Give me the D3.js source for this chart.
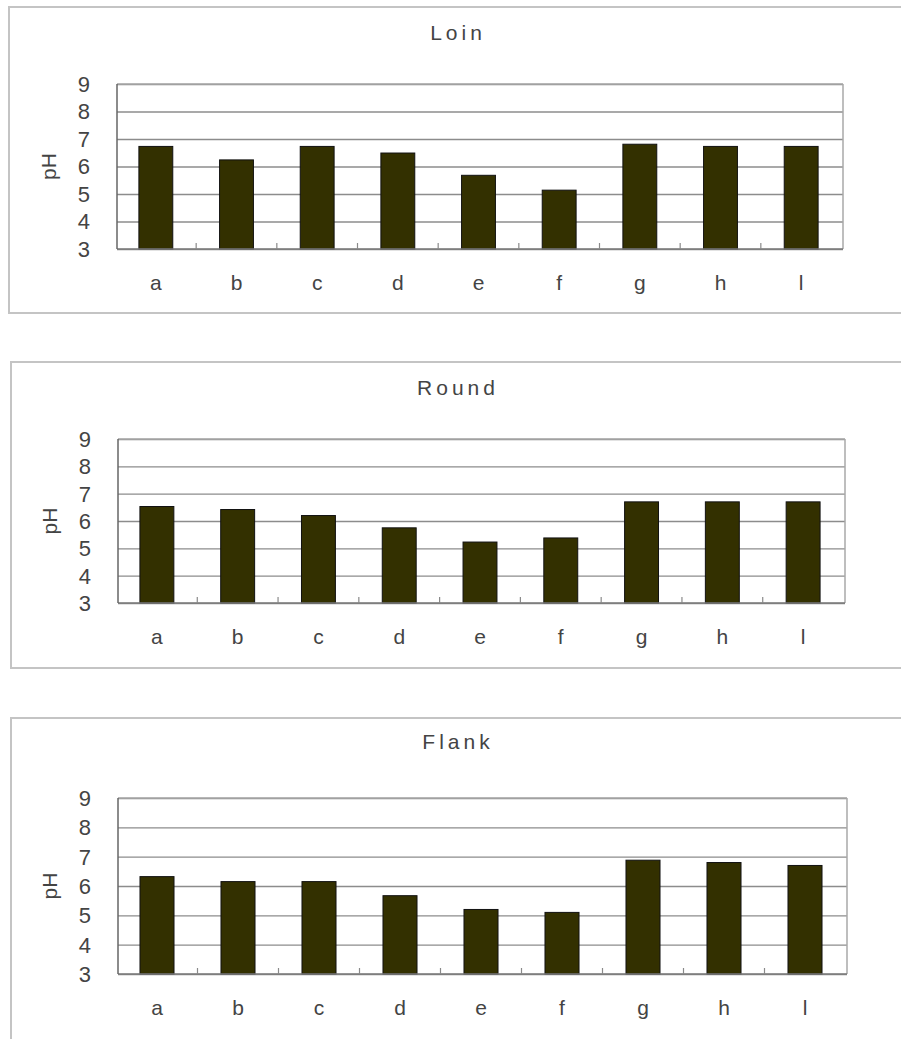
<!DOCTYPE html>
<html>
<head>
<meta charset="utf-8">
<script src="https://cdn.jsdelivr.net/npm/d3@7"></script>
<style>
  html, body { margin: 0; padding: 0; background: #fff; }
  svg { display: block; }
  text { font-family: "Liberation Sans", Arial, sans-serif; fill: #444; }
</style>
</head>
<body>
<svg id="chart" width="901" height="1039"></svg>
<script>
// ---- data ----
const categories = ["a", "b", "c", "d", "e", "f", "g", "h", "l"];
const titles = ["Loin", "Round", "Flank"];
const loinValues  = [6.73, 6.24, 6.73, 6.49, 5.68, 5.14, 6.81, 6.73, 6.73];
const roundValues = [6.53, 6.42, 6.20, 5.75, 5.23, 5.38, 6.70, 6.70, 6.70];
const flankValues = [6.32, 6.15, 6.15, 5.67, 5.20, 5.10, 6.88, 6.80, 6.70];
const yTicks = [3, 4, 5, 6, 7, 8, 9];
const yLabel = "pH";

// ---- layout (not data) ----
const panels = [
  { values: loinValues,  box: [9, 7, 920, 306],   plot: [117, 84, 843, 249],   titleY: 40,  catY: 290 },
  { values: roundValues, box: [11, 362, 920, 306], plot: [118, 439, 845, 603],  titleY: 395, catY: 644 },
  { values: flankValues, box: [11, 718, 920, 340], plot: [118, 798, 847, 974],  titleY: 749, catY: 1015 }
];

const svg = d3.select("#chart");

panels.forEach((p, i) => {
  const g = svg.append("g");
  const [bx, by, bw, bh] = p.box;
  g.append("rect").attr("x", bx).attr("y", by).attr("width", bw).attr("height", bh)
    .attr("fill", "none").attr("stroke", "#c4c4c4").attr("stroke-width", 2);

  const [l, t, r, b] = p.plot;
  const x = d3.scaleBand().domain(categories).range([l - 1.5, r - 1.5]).paddingInner(0.58).paddingOuter(0.29);
  const y = d3.scaleLinear().domain([3, 9]).range([b, t]);

  // gridlines
  g.append("g").attr("transform", `translate(${l},0)`)
    .call(d3.axisLeft(y).tickValues(yTicks).tickSize(-(r - l)).tickFormat(""))
    .call(s => s.select(".domain").remove())
    .call(s => s.selectAll("line").attr("stroke", "#8c8c8c").attr("stroke-width", 1.3));

  // frame top & right
  g.append("line").attr("x1", l).attr("x2", r).attr("y1", y(9)).attr("y2", y(9)).attr("stroke", "#a8a8a8").attr("stroke-width", 1.5);
  g.append("line").attr("x1", r).attr("x2", r).attr("y1", y(9)).attr("y2", y(3)).attr("stroke", "#a8a8a8").attr("stroke-width", 1.5);

  // bars
  g.selectAll("rect.bar").data(p.values).join("rect").attr("class", "bar")
    .attr("x", (d, k) => x(categories[k]))
    .attr("width", x.bandwidth())
    .attr("y", d => y(d))
    .attr("height", d => y(3) - y(d))
    .attr("fill", "#333000").attr("stroke", "#111").attr("stroke-width", 1);

  // x axis baseline & ticks at category boundaries
  g.append("line").attr("x1", l).attr("x2", r).attr("y1", y(3)).attr("y2", y(3)).attr("stroke", "#7a7a7a").attr("stroke-width", 1.5);
  const step = x.step();
  g.selectAll("line.xt").data(categories.slice(1)).join("line").attr("class", "xt")
    .attr("x1", d => x(d) - step * x.paddingInner() / 2)
    .attr("x2", d => x(d) - step * x.paddingInner() / 2)
    .attr("y1", y(3)).attr("y2", y(3) - 6)
    .attr("stroke", "#8a8a8a").attr("stroke-width", 1.2);

  // y axis line
  g.append("line").attr("x1", l).attr("x2", l).attr("y1", y(9)).attr("y2", y(3)).attr("stroke", "#666").attr("stroke-width", 1.5);

  // y tick labels
  g.selectAll("text.yl").data(yTicks).join("text").attr("class", "yl")
    .attr("x", l - 27).attr("y", d => y(d)).attr("dy", "0.36em")
    .attr("text-anchor", "end").attr("font-size", 22).text(d => d);

  // category labels
  g.selectAll("text.cl").data(categories).join("text").attr("class", "cl")
    .attr("x", d => x(d) + x.bandwidth() / 2).attr("y", p.catY)
    .attr("text-anchor", "middle").attr("font-size", 21).text(d => d);

  // y label
  g.append("text").attr("transform", `translate(${l - 61},${(t + b) / 2}) rotate(-90)`)
    .attr("text-anchor", "middle").attr("font-size", 21).text(yLabel);

  // title
  g.append("text").attr("x", 458).attr("y", p.titleY).attr("text-anchor", "middle")
    .attr("font-size", 21).attr("letter-spacing", 4).text(titles[i]);
});
</script>
</body>
</html>
